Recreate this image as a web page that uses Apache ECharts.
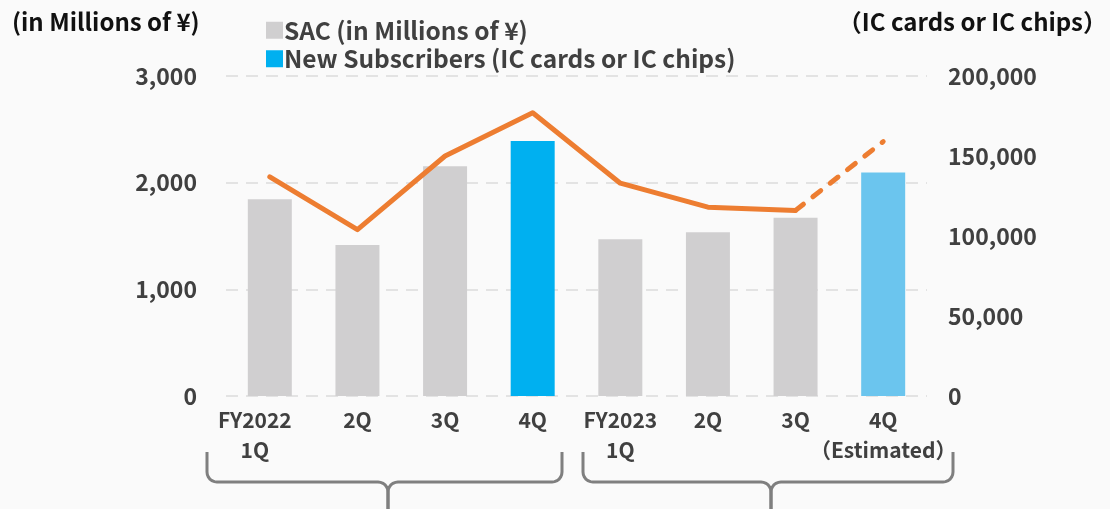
<!DOCTYPE html>
<html>
<head>
<meta charset="utf-8">
<script src="https://cdn.jsdelivr.net/npm/echarts@6/dist/echarts.min.js"></script>
<style>
  html, body { margin: 0; padding: 0; background: #fafafa; }
  #main { width: 1110px; height: 509px; }
</style>
</head>
<body>
<div id="main"></div>
<script>
  const categories = ['FY2022\n1Q', '2Q', '3Q', '4Q', 'FY2023\n1Q', '2Q', '3Q', '4Q\n（Estimated）'];
  const sac = [1845, 1415, 2155, 2390, 1470, 1535, 1670, 2095];
  const subscribers = [137000, 104000, 150000, 177000, 133000, 118000, 116000, 159000];
  const leftTicks = [0, 1000, 2000, 3000];
  const rightTicks = [0, 50000, 100000, 150000, 200000];

  const FONT = '"Noto Sans CJK JP", "Noto Sans", sans-serif';
  const GRAY = '#d0cfd0', BLUE = '#00b0f0', LIGHT_BLUE = '#6bc5ee', ORANGE = '#ed7d31';

  // bar colours: 4Q actual is dark blue, 4Q estimated light blue
  const barData = sac.map(function (v, i) {
    let c = GRAY;
    if (i === 3) c = BLUE;
    if (i === 7) c = LIGHT_BLUE;
    return { value: v, itemStyle: { color: c } };
  });
  // solid part up to 3Q, dashed part 3Q -> 4Q estimate
  const solidLine = subscribers.map(function (v, i) { return i < 7 ? v : null; });
  const dashLine = subscribers.map(function (v, i) { return i >= 6 ? v : null; });

  // first label sits a bit left of its bar in the original
  const catData = categories.map(function (c, i) {
    return i === 0 ? { value: c, textStyle: { padding: [0, 30, 0, 0] } } : c;
  });

  const fmt = function (v) { return v.toLocaleString('en-US'); };

  // quarter-circle corner as points
  function corner(cx, cy, r, a0, a1) {
    const pts = [];
    for (let k = 0; k <= 6; k++) {
      const a = a0 + (a1 - a0) * k / 6;
      pts.push([cx + r * Math.cos(a), cy + r * Math.sin(a)]);
    }
    return pts;
  }
  function brace(x0, x1, xm) {
    const r = 10, top = 452, y = 482, bottom = 509;
    const left = [[x0, top]]
      .concat(corner(x0 + r, y - r, r, Math.PI, Math.PI / 2))
      .concat(corner(xm - r, y + r, r, -Math.PI / 2, 0))
      .concat([[xm, bottom]]);
    const right = [[xm, bottom]]
      .concat(corner(xm + r, y + r, r, Math.PI, Math.PI * 1.5))
      .concat(corner(x1 - r, y - r, r, Math.PI / 2, 0))
      .concat([[x1, top]]);
    const st = { stroke: '#7f7f7f', lineWidth: 3, fill: null };
    return [
      { type: 'polyline', shape: { points: left }, style: st },
      { type: 'polyline', shape: { points: right }, style: st }
    ];
  }

  const option = {
    backgroundColor: '#fafafa',
    animation: false,
    textStyle: { fontFamily: FONT },
    grid: { left: 226, right: 183, top: 76, bottom: 113 },
    legend: {
      orient: 'vertical',
      left: 261,
      top: 13,
      itemWidth: 17,
      itemHeight: 17,
      itemGap: 4,
      icon: 'rect',
      textStyle: { fontFamily: FONT, fontSize: 24.5, fontWeight: 'bold', color: '#404040', padding: [0, 0, 0, -4] },
      data: [
        { name: 'SAC (in Millions of ¥)', itemStyle: { color: GRAY } },
        { name: 'New Subscribers (IC cards or IC chips)', itemStyle: { color: BLUE } }
      ]
    },
    graphic: [
      { type: 'text', x: 12, y: 10, style: { text: '(in Millions of ¥)', font: 'bold 24px ' + FONT, fill: '#111' } },
      { type: 'text', x: 1107, y: 10, style: { text: '（IC cards or IC chips）', font: 'bold 24px ' + FONT, fill: '#111', align: 'right' } }
    ].concat(brace(207, 562, 388)).concat(brace(583, 953, 771)),
    xAxis: {
      type: 'category',
      data: catData,
      axisLine: { show: false },
      axisTick: { show: false },
      axisLabel: {
        interval: 0,
        margin: 9,
        fontSize: 21,
        fontWeight: 'bold',
        lineHeight: 30,
        color: '#404040',
        fontFamily: FONT
      }
    },
    yAxis: [
      {
        type: 'value',
        min: leftTicks[0],
        max: leftTicks[leftTicks.length - 1],
        interval: 1000,
        axisLabel: { formatter: fmt, fontSize: 23, fontWeight: 'bold', color: '#404040', margin: 29, fontFamily: FONT },
        splitLine: { lineStyle: { color: '#e3e3e3', width: 2, type: [12, 8] } }
      },
      {
        type: 'value',
        min: rightTicks[0],
        max: rightTicks[rightTicks.length - 1],
        interval: 50000,
        axisLabel: { formatter: fmt, fontSize: 23, fontWeight: 'bold', color: '#404040', margin: 21, fontFamily: FONT },
        splitLine: { show: false }
      }
    ],
    series: [
      {
        name: 'SAC (in Millions of ¥)',
        type: 'bar',
        data: barData,
        barWidth: 44,
        itemStyle: { color: GRAY },
        z: 2
      },
      {
        name: 'New Subscribers (IC cards or IC chips)',
        type: 'line',
        yAxisIndex: 1,
        data: solidLine,
        symbol: 'none',
        lineStyle: { color: ORANGE, width: 5, cap: 'round', join: 'round' },
        itemStyle: { color: ORANGE },
        z: 3
      },
      {
        name: 'estimate',
        type: 'line',
        yAxisIndex: 1,
        data: dashLine,
        symbol: 'none',
        lineStyle: { color: ORANGE, width: 5, type: [10, 12], cap: 'round' },
        itemStyle: { color: ORANGE },
        z: 3
      }
    ]
  };

  const myChart = echarts.init(document.getElementById('main'));
  myChart.setOption(option);
</script>
</body>
</html>
